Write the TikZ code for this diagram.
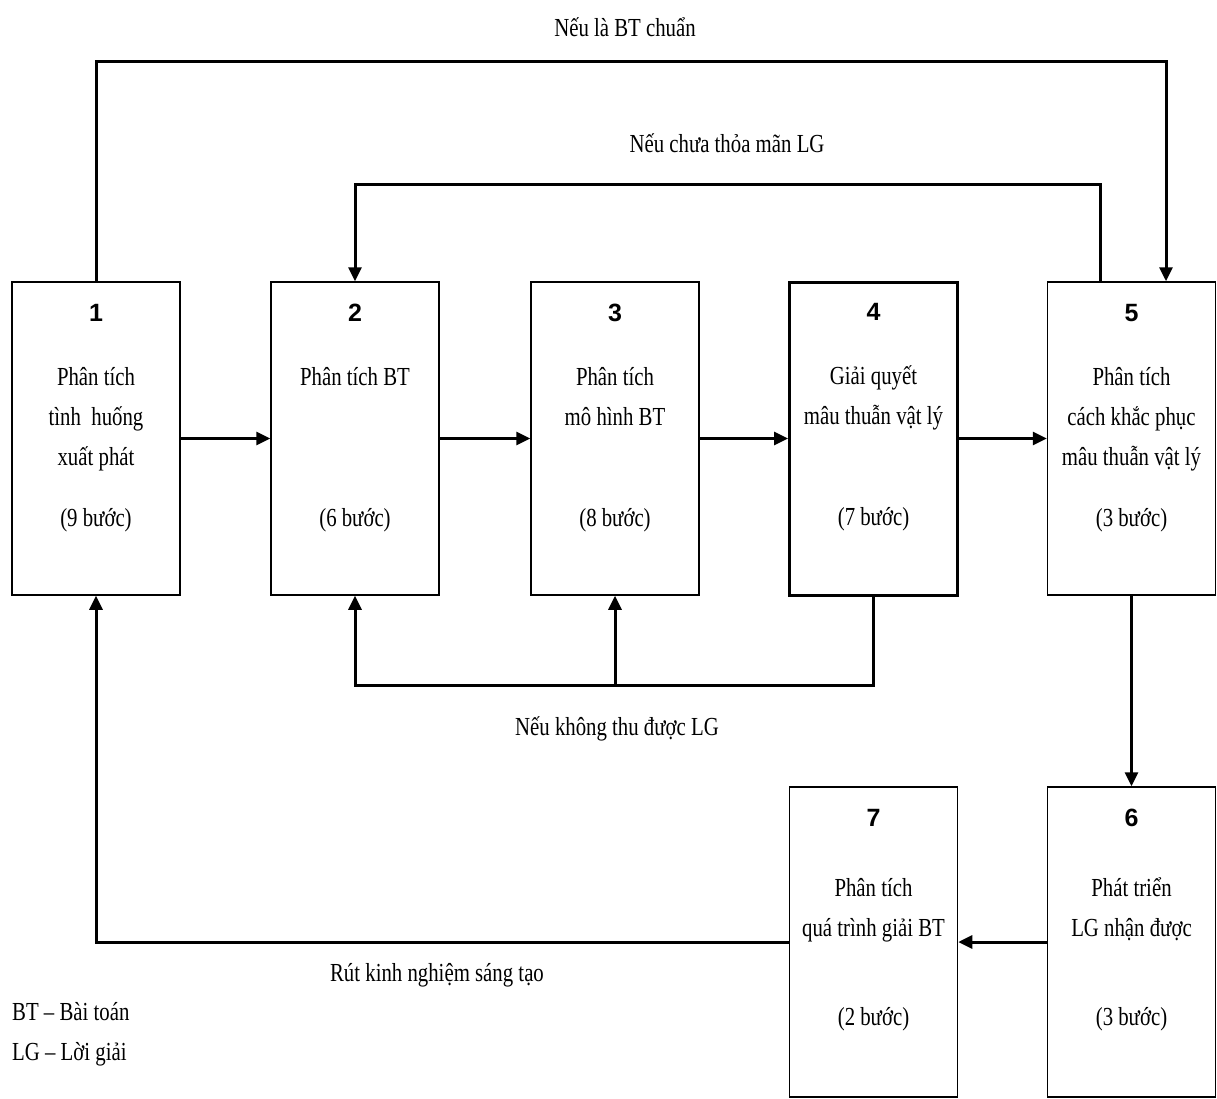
\documentclass[tikz,border=0pt]{standalone}
\usepackage{fontspec}
\setmainfont{Liberation Serif}[FakeStretch=0.8]
\newfontfamily\numfont{Liberation Sans}
\usetikzlibrary{arrows.meta,calc}

\tikzset{
	stage/.style={draw, minimum width=168pt, inner sep=0pt},
	num/.style={font=\numfont\bfseries\fontsize{25}{30}\selectfont, anchor=base, inner sep=0pt},
	note/.style={font=\fontsize{26}{40}\selectfont, align=center, inner sep=0pt},
	flow/.style={line width=3pt, -{Triangle[length=14pt,width=13pt]}}
}

\begin{document}
\begin{tikzpicture}[x=1pt,y=-1pt]
	\useasboundingbox (0,0) rectangle (1217,1099);
	% boxes
	\foreach \N/\X/\Y/\H/\W in {1/96/438.5/313/1.5, 2/355/438.5/313/1.5, 
	3/615/438.5/313/1.5, 4/873.5/438.5/313/3, 5/1131.5/438.5/313/1.5, 
	7/873.5/942/310/1.5, 6/1131.5/942/310/1.5}
	{\node[stage, minimum height=\H pt, line width=\W pt] (b\N) at (\X,\Y) {};}
	\foreach \N in {1,...,7}
	{\node[num] (n\N) at ($(b\N.north)+(0,40)$) {\N};}
	% first line: strut top sits 28pt above its baseline
	\foreach \N/\D/\T in {1/76/{Phân tích\\tình\ \ huống\\xuất phát}, 2/76/{Phân tích BT},
	3/76/{Phân tích\\mô hình BT}, 4/76/{Giải quyết\\mâu thuẫn vật lý},
	5/76/{Phân tích\\cách khắc phục\\mâu thuẫn vật lý}, 6/82/{Phát triển\\LG nhận được},
	7/82/{Phân tích\\quá trình giải BT}}
	{\node[note, anchor=north] (d\N) at ($(b\N.north)+(0,\D)$) {\strut\T};}
	\foreach \N/\D/\S in {1/245/9, 2/245/6, 3/245/8, 4/245/7, 5/245/3, 6/239/3, 7/239/2}
	{\node[note, anchor=base] (s\N) at ($(b\N.north)+(0,\D)$) {(\S{} bước)};}
	% loops
	\coordinate (top) at (0,62);
	\coordinate (mid) at (0,185);
	\coordinate (low) at (0,685);
	\coordinate (in5) at ([xshift=34.5pt]b5.north);
	\coordinate (out5) at ([xshift=-31.5pt]b5.north);
	\coordinate (fork) at (b3.south |- low);
	\draw[flow] (b1) -- (b2);
	\draw[flow] (b2) -- (b3);
	\draw[flow] (b3) -- (b4);
	\draw[flow] (b4) -- (b5);
	\draw[flow] (b1.north) -- (b1.north |- top) -| (in5);
	\draw[flow] (out5) -- (out5 |- mid) -| (b2.north);
	\draw[flow] (b4.south) -- (b4.south |- low) -| (b2.south);
	\draw[flow] (fork) -- (b3.south);
	\draw[flow] (b5) -- (b6);
	\draw[flow] (b6) -- (b7);
	\draw[flow] (b7.west) -| (b1.south);
	% labels
	\node[note] (l1) at (625,27) {Nếu là BT chuẩn};
	\node[note] (l2) at (727,143) {Nếu chưa thỏa mãn LG};
	\node[note] (l3) at (617,729) {Nếu không thu được LG};
	\node[note] (l4) at (437,975) {Rút kinh nghiệm sáng tạo};
	\node[note, align=left, anchor=west] (key) at (12,1034) {BT -- Bài toán\\LG -- Lời giải};
\end{tikzpicture}
\end{document}
